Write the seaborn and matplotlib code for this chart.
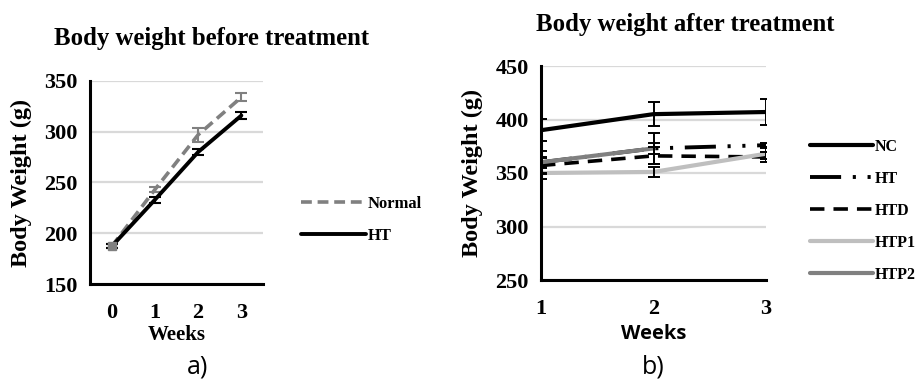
import numpy as np
import pandas as pd
import matplotlib
matplotlib.use("Agg")
import matplotlib.pyplot as plt
import seaborn as sns
from matplotlib.lines import Line2D

# ---------------- data ----------------
weeks_before = [0, 1, 2, 3]
normal_vals = [187, 243, 297, 334]
normal_err = [2, 2.5, 7, 4]
ht_before_vals = [187, 233, 280, 316]
ht_before_err = [2, 3, 3, 3]

weeks_after = [1, 2, 3]
nc_vals = [390, 405, 407]
nc_err = [10.5, 11, 12.5]
ht_vals = [360, 373, 376]
ht_err = [11, 14.5, 2]
htd_vals = [357, 366, 365]
htd_err = [7, 8, 5]
htp1_vals = [350, 351, 368]
htp1_err = [6, 5, 5]
htp2_vals = [360, 373, np.nan]
htp2_err = [5, 5, np.nan]

sns.set_theme(style="white")
plt.rcParams['font.family'] = ['Liberation Serif', 'DejaVu Sans']
plt.rcParams['text.color'] = 'black'
plt.rcParams['axes.labelcolor'] = 'black'
plt.rcParams['xtick.color'] = 'black'
plt.rcParams['ytick.color'] = 'black'

fig = plt.figure(figsize=(9.21, 3.81), dpi=100)
W, H = 921, 381

def axes_px(x0, x1, ytop, ybot):
    return fig.add_axes([x0 / W, 1 - ybot / H, (x1 - x0) / W, (ybot - ytop) / H])

GRID = '#d9d9d9'
GRAY = '#808080'
LGRAY = '#bfbfbf'

def style_axes(ax, ticks):
    ax.set_yticks(ticks)
    for t in ticks:
        ax.axhline(t, color=GRID, lw=1.6, zorder=0)
    for s in ['top', 'right']:
        ax.spines[s].set_visible(False)
    for s in ['left', 'bottom']:
        ax.spines[s].set_color('black')
        ax.spines[s].set_linewidth(2.2)
        ax.spines[s].set_zorder(5)
    ax.tick_params(axis='both', length=0, labelsize=16, labelcolor='black')
    ax.tick_params(axis='x', pad=14)
    ax.tick_params(axis='y', pad=9)
    for lab in ax.get_xticklabels() + ax.get_yticklabels():
        lab.set_fontweight('bold')
        lab.set_family('Liberation Serif')

# ---------------- left panel ----------------
axL = axes_px(90, 263, 81, 284)
axL.set_xlim(-0.5, 3.5)
axL.set_ylim(150, 350)

sns.lineplot(x=weeks_before, y=normal_vals, ax=axL, color=GRAY, lw=2.6,
             linestyle=(0, (3, 1.6)), zorder=3)
sns.lineplot(x=weeks_before, y=ht_before_vals, ax=axL, color='black', lw=2.8, zorder=4)
axL.errorbar(weeks_before, normal_vals, yerr=normal_err, fmt='none', ecolor=GRAY,
             elinewidth=1.5, capsize=4, capthick=1.5, zorder=3)
axL.errorbar(weeks_before, ht_before_vals, yerr=ht_before_err, fmt='none', ecolor='black',
             elinewidth=1.5, capsize=4, capthick=1.5, zorder=4)
axL.plot([weeks_before[0]], [normal_vals[0]], marker='s', ms=6, color=GRAY, zorder=5)
axL.set_xticks(weeks_before)
style_axes(axL, [150, 200, 250, 300, 350])
axL.set_xlabel('Weeks', fontsize=15, fontweight='bold', labelpad=1)
axL.set_ylabel('Body Weight (g)', fontsize=17.5, fontweight='bold', labelpad=9)
fig.text(212 / W, 1 - 39 / H, 'Body weight before treatment', fontsize=17.8,
         fontweight='bold', ha='center', va='center')

legL = [Line2D([], [], color=GRAY, lw=2.6, linestyle=(0, (3, 1.6))),
        Line2D([], [], color='black', lw=2.8)]
fig.legend(legL, ['Normal', 'HT'], loc='center left',
           bbox_to_anchor=(286 / W, 1 - 220 / H), frameon=False,
           prop={'family': 'Liberation Serif', 'weight': 'bold', 'size': 12},
           handlelength=3.9, labelspacing=0.95, handletextpad=0.1)
fig.text(198 / W, 1 - 367 / H, 'a)', fontsize=18, family='Open Sans',
         ha='center', va='center')

# ---------------- right panel ----------------
axR = axes_px(541, 766, 66, 280)
axR.set_xlim(1, 3)
axR.set_ylim(250, 450)

ht_ls = (0, (8, 3, 0.8, 3, 0.8, 3))
series = [
    (htd_vals, htd_err, 'black', (0, (4, 2.5)), 2.6, 3),
    (htp1_vals, htp1_err, LGRAY, '-', 3.0, 3),
    (ht_vals, ht_err, 'black', ht_ls, 2.8, 4),
    (htp2_vals, htp2_err, GRAY, '-', 3.0, 5),
    (nc_vals, nc_err, 'black', '-', 3.0, 6),
]
for vals, err, col, ls, lw, z in series:
    sns.lineplot(x=weeks_after, y=vals, ax=axR, color=col, lw=lw, linestyle=ls, zorder=z)
    axR.errorbar(weeks_after, vals, yerr=err, fmt='none', ecolor='black',
                 elinewidth=1.4, capsize=4, capthick=1.4, zorder=6)
axR.set_xticks(weeks_after)
style_axes(axR, [250, 300, 350, 400, 450])
axR.set_xlabel('Weeks', fontsize=14.5, fontweight='bold', family='Open Sans', labelpad=3)
axR.set_ylabel('Body Weight (g)', fontsize=17.5, fontweight='bold', labelpad=9)
fig.text(685 / W, 1 - 24 / H, 'Body weight after treatment', fontsize=17.8,
         fontweight='bold', ha='center', va='center')

legR = [Line2D([], [], color='black', lw=3.0),
        Line2D([], [], color='black', lw=2.8, linestyle=ht_ls),
        Line2D([], [], color='black', lw=2.6, linestyle=(0, (4, 2.5))),
        Line2D([], [], color=LGRAY, lw=3.0),
        Line2D([], [], color=GRAY, lw=3.0)]
fig.legend(legR, ['NC', 'HT', 'HTD', 'HTP1', 'HTP2'], loc='center left',
           bbox_to_anchor=(796 / W, 1 - 211 / H), frameon=False,
           prop={'family': 'Liberation Serif', 'weight': 'bold', 'size': 11.5},
           handlelength=3.9, labelspacing=1.0, handletextpad=0.1)
fig.text(653 / W, 1 - 367 / H, 'b)', fontsize=18, family='Open Sans',
         ha='center', va='center')

fig.savefig('out.png', dpi=100)
